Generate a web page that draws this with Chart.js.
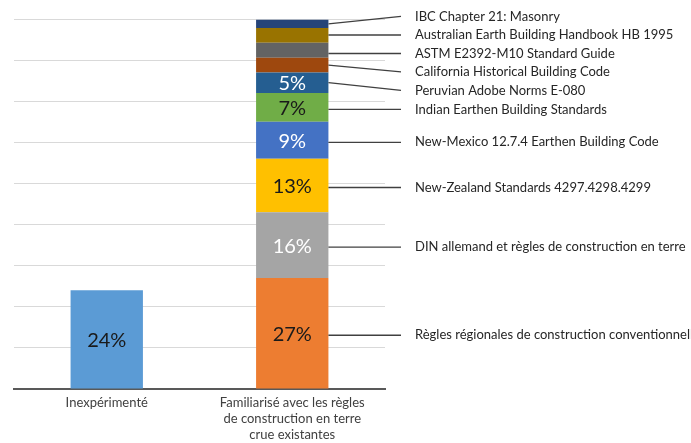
<!DOCTYPE html>
<html>
<head>
<meta charset="utf-8">
<script src="https://cdn.jsdelivr.net/npm/chart.js@4/dist/chart.umd.min.js"></script>
<style>
  html, body { margin: 0; padding: 0; background: #fff; }
  #wrap { width: 691px; height: 443px; }
</style>
</head>
<body>
<div id="wrap"><canvas id="chart"></canvas></div>
<script>
// Categories on the x axis
const categories = [
  ["Inexpérimenté"],
  ["Familiarisé avec les règles", "de construction en terre", "crue existantes"],
];

// Share of respondents without experience (%)
const inexperiencedShare = 24;

// Building codes known by the others, bottom of the stack to top
const codeNames = [
  "Règles régionales de construction conventionnelle",
  "DIN allemand et règles de construction en terre",
  "New-Zealand Standards 4297.4298.4299",
  "New-Mexico 12.7.4 Earthen Building Code",
  "Indian Earthen Building Standards",
  "Peruvian Adobe Norms E-080",
  "California Historical Building Code",
  "ASTM E2392-M10 Standard Guide",
  "Australian Earth Building Handbook HB 1995",
  "IBC Chapter 21: Masonry",
];
const codeShares = [27, 16, 13, 9, 7, 5, 3.6, 3.6, 3.6, 2];

// Office palette, same order as codeNames
const codeColors = [
  "#ED7D31", "#A5A5A5", "#FFC000", "#4472C4", "#70AD47",
  "#255E91", "#9E480E", "#636363", "#997300", "#264478",
];
const codeTextColors = [
  "#1a1a1a", "#ffffff", "#1a1a1a", "#ffffff", "#1a1a1a",
  "#ffffff", "#ffffff", "#ffffff", "#ffffff", "#ffffff",
];

const FONT = "Lato, 'Open Sans', sans-serif";

const datasets = [
  {
    label: "Inexpérimenté",
    data: [inexperiencedShare, null],
    backgroundColor: "#5B9BD5",
    textColor: "#1a1a1a",
  },
].concat(codeNames.map((name, i) => ({
  label: name,
  data: [null, codeShares[i]],
  backgroundColor: codeColors[i],
  textColor: codeTextColors[i],
})));

// Percent values inside the bars, plus the leader-line labels on the right
const labelsPlugin = {
  id: "labels",
  afterDatasetsDraw(chart) {
    const ctx = chart.ctx;
    const area = chart.chartArea;
    ctx.save();

    // values inside bars
    ctx.font = "20px " + FONT;
    ctx.textAlign = "center";
    ctx.textBaseline = "middle";
    chart.data.datasets.forEach((ds, i) => {
      const meta = chart.getDatasetMeta(i);
      meta.data.forEach((el, j) => {
        const v = ds.data[j];
        if (v == null || v < 5) return;
        ctx.fillStyle = ds.textColor;
        ctx.fillText(Math.round(v) + "%", el.x, (el.y + el.base) / 2 + 1);
      });
    });

    // segments of the stacked bar, top to bottom
    const segs = codeNames.map((name, i) => {
      const el = chart.getDatasetMeta(i + 1).data[1];
      const top = Math.min(el.y, el.base);
      const bottom = Math.max(el.y, el.base);
      return { name, top, bottom, center: (top + bottom) / 2, right: el.x + el.width / 2 };
    }).reverse();

    // spread the labels so they keep a minimum gap
    const gap = 18.5;
    const clusters = [];
    segs.forEach((s) => {
      const want = s.center + 2;
      clusters.push({ items: [want], start: want });
      while (clusters.length > 1) {
        const last = clusters[clusters.length - 1];
        const prev = clusters[clusters.length - 2];
        if (prev.start + prev.items.length * gap <= last.start) break;
        const items = prev.items.concat(last.items);
        let sum = 0;
        items.forEach((c, k) => { sum += c - k * gap; });
        clusters.splice(clusters.length - 2, 2, { items, start: sum / items.length });
      }
    });
    const labelY = [];
    clusters.forEach((c) => c.items.forEach((_, k) => labelY.push(c.start + k * gap)));

    const lineEnd = area.right + 16;
    const textX = area.right + 30;
    ctx.strokeStyle = "#404040";
    ctx.lineWidth = 1.3;
    ctx.fillStyle = "#262626";
    ctx.font = "13px " + FONT;
    ctx.textAlign = "left";
    segs.forEach((s, i) => {
      const ly = labelY[i];
      const h = s.bottom - s.top;
      const inside = ly >= s.top + h / 4 && ly <= s.bottom - h / 4;
      const sy = inside ? ly : s.center;
      ctx.beginPath();
      ctx.moveTo(s.right, sy);
      ctx.lineTo(lineEnd, ly);
      ctx.stroke();
      ctx.fillText(s.name, textX, ly);
    });
    ctx.restore();
  },
};

new Chart(document.getElementById("chart"), {
  type: "bar",
  data: { labels: categories, datasets },
  options: {
    responsive: true,
    maintainAspectRatio: false,
    animation: false,
    layout: { padding: { left: 0, right: 306, top: 19, bottom: 0 } },
    datasets: { bar: { barPercentage: 0.39, categoryPercentage: 1 } },
    plugins: { legend: { display: false }, tooltip: { enabled: false } },
    scales: {
      x: {
        stacked: true,
        grid: { display: false, drawTicks: false },
        border: { color: "#595959", width: 2 },
        ticks: {
          color: "#404040",
          font: { family: FONT, size: 13, lineHeight: 1.23 },
          padding: 6,
          maxRotation: 0,
        },
        afterFit(scale) { scale.height = 54; },
      },
      y: {
        stacked: true,
        min: 0,
        max: 90,
        ticks: { display: false, stepSize: 10 },
        grid: { color: "#d9d9d9", lineWidth: 1, drawTicks: false },
        border: { display: false },
        afterFit(scale) { scale.width = 14; },
      },
    },
  },
  plugins: [labelsPlugin],
});
</script>
</body>
</html>
